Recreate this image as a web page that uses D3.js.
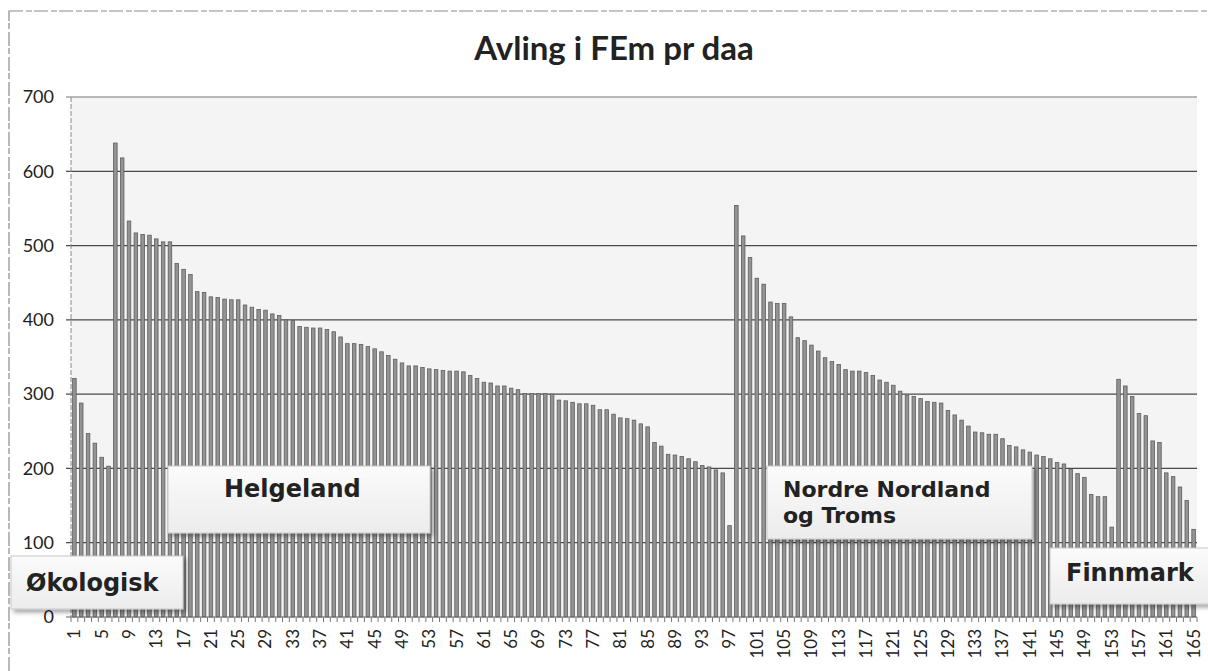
<!DOCTYPE html>
<html>
<head>
<meta charset="utf-8">
<script src="https://cdn.jsdelivr.net/npm/d3@7"></script>
<style>
  html, body { margin: 0; padding: 0; background: #fff; }
  svg { display: block; }
</style>
</head>
<body>
<svg id="chart" width="1208" height="671"></svg>
<script>
// ---- data ----
const title = "Avling i FEm pr daa";
const categories = d3.range(1, 166);
const values = [
  321, 288, 247, 234, 215, 203, 638, 618, 533, 517,
  515, 514, 509, 505, 505, 476, 468, 461, 438, 437,
  431, 430, 428, 427, 427, 420, 417, 414, 413, 408,
  406, 400, 399, 391, 390, 389, 389, 387, 384, 377,
  368, 368, 367, 364, 361, 357, 352, 347, 342, 338,
  338, 336, 334, 333, 332, 331, 331, 330, 325, 321,
  316, 315, 311, 311, 308, 306, 301, 301, 301, 301,
  300, 292, 291, 289, 287, 287, 285, 279, 279, 273,
  268, 267, 265, 260, 256, 235, 230, 219, 218, 216,
  213, 209, 204, 202, 198, 194, 123, 554, 513, 484,
  456, 448, 424, 422, 422, 404, 376, 372, 366, 358,
  349, 344, 340, 333, 331, 331, 329, 325, 319, 316,
  312, 304, 298, 297, 294, 290, 289, 288, 278, 272,
  265, 257, 249, 248, 246, 246, 240, 231, 229, 225,
  222, 218, 216, 213, 208, 206, 199, 193, 188, 165,
  162, 162, 121, 320, 311, 297, 274, 271, 237, 235,
  194, 189, 175, 157, 118
];
const yTicks = [0, 100, 200, 300, 400, 500, 600, 700];
const xTickLabels = categories.filter(d => (d - 1) % 4 === 0);
const groupLabels = [["Økologisk"], ["Helgeland"], ["Nordre Nordland", "og Troms"], ["Finnmark"]];

// ---- layout ----
const svg = d3.select("#chart");
const plot = { left: 71, right: 1197, top: 97, bottom: 617 };

const x = d3.scaleBand().domain(categories).range([plot.left, plot.right])
  .paddingInner(0.48).paddingOuter(0.24);
const y = d3.scaleLinear().domain([0, 700]).range([plot.bottom, plot.top]);

const defs = svg.append("defs");
const sh = defs.append("filter").attr("id", "shadow").attr("x", "-10%").attr("y", "-10%").attr("width", "130%").attr("height", "140%");
sh.append("feDropShadow").attr("dx", 3).attr("dy", 3).attr("stdDeviation", 2).attr("flood-color", "#000").attr("flood-opacity", 0.35);
const lg = defs.append("linearGradient").attr("id", "boxgrad").attr("x1", 0).attr("y1", 0).attr("x2", 0).attr("y2", 1);
lg.append("stop").attr("offset", "0%").attr("stop-color", "#fbfbfb");
lg.append("stop").attr("offset", "100%").attr("stop-color", "#ececec");

// outer chart border (dashed, scanned look) - only top and left edges fall inside the view
svg.append("rect").attr("x", 9).attr("y", 11).attr("width", 1230).attr("height", 700)
  .attr("fill", "none").attr("stroke", "#8a8a8a").attr("stroke-width", 1.2)
  .attr("stroke-dasharray", "14 3 6 2");

// plot area background
svg.append("rect").attr("x", plot.left).attr("y", plot.top)
  .attr("width", plot.right - plot.left).attr("height", plot.bottom - plot.top)
  .attr("fill", "#f4f4f4");

// gridlines
svg.append("g").selectAll("line").data(yTicks.filter(d => d > 0)).join("line")
  .attr("x1", plot.left - 5).attr("x2", plot.right)
  .attr("y1", d => y(d)).attr("y2", d => y(d))
  .attr("stroke", d => d === 700 ? "#777" : "#4a4a4a").attr("stroke-width", 1.2);

// y axis line
svg.append("line").attr("x1", plot.left).attr("x2", plot.left)
  .attr("y1", plot.top).attr("y2", plot.bottom)
  .attr("stroke", "#888").attr("stroke-width", 1).attr("stroke-dasharray", "5 2");

// y labels
svg.append("g").selectAll("text").data(yTicks).join("text")
  .attr("x", 54).attr("y", d => y(d)).attr("dy", "0.35em")
  .attr("text-anchor", "end")
  .attr("font-family", "Lato, 'Open Sans', sans-serif").attr("font-size", 18)
  .attr("fill", "#222").text(d => d);

// bars
svg.append("g").selectAll("rect").data(categories).join("rect")
  .attr("x", d => x(d)).attr("width", x.bandwidth())
  .attr("y", (d, i) => y(values[i]))
  .attr("height", (d, i) => y(0) - y(values[i]))
  .attr("fill", "#939393").attr("stroke", "#5e5e5e").attr("stroke-width", 0.8);

// x axis line and ticks
svg.append("line").attr("x1", plot.left - 5).attr("x2", plot.right)
  .attr("y1", plot.bottom).attr("y2", plot.bottom)
  .attr("stroke", "#666").attr("stroke-width", 1.2);
const step = x.step();
svg.append("g").selectAll("line").data(categories.concat([166])).join("line")
  .attr("x1", d => plot.left + (d - 1) * step).attr("x2", d => plot.left + (d - 1) * step)
  .attr("y1", plot.bottom).attr("y2", plot.bottom + 5)
  .attr("stroke", "#777").attr("stroke-width", 1);

// x labels
svg.append("g").selectAll("text").data(xTickLabels).join("text")
  .attr("transform", d => `translate(${x(d) + x.bandwidth() / 2},${plot.bottom + 12}) rotate(-90)`)
  .attr("text-anchor", "end").attr("dy", "0.35em")
  .attr("font-family", "Lato, 'Open Sans', sans-serif").attr("font-size", 17)
  .attr("fill", "#222").text(d => d);

// title
svg.append("text").attr("x", 614).attr("y", 60).attr("text-anchor", "middle")
  .attr("font-family", "Lato, 'Open Sans', sans-serif").attr("font-weight", "bold")
  .attr("font-size", 33).attr("fill", "#222").text(title);

// group annotation boxes
const boxes = [
  { x: 11, y: 556, w: 172, h: 53, tx: 26, ty: 583, fs: 24 },
  { x: 168, y: 466, w: 262, h: 67, tx: 224, ty: 489, fs: 24 },
  { x: 767, y: 466, w: 265, h: 73, tx: 783, ty: 489, fs: 22 },
  { x: 1050, y: 548, w: 170, h: 56, tx: 1066, ty: 573, fs: 24 }
];
boxes.forEach((b, i) => {
  const g = svg.append("g");
  g.append("rect").attr("x", b.x).attr("y", b.y).attr("width", b.w).attr("height", b.h)
    .attr("fill", "url(#boxgrad)").attr("stroke", "#c8c8c8").attr("stroke-width", 1)
    .attr("filter", "url(#shadow)");
  const t = g.append("text").attr("x", b.tx).attr("y", b.ty)
    .attr("font-family", "'DejaVu Sans', Verdana, sans-serif").attr("font-weight", "bold")
    .attr("font-size", b.fs).attr("fill", "#222");
  groupLabels[i].forEach((line, j) => {
    t.append("tspan").attr("x", b.tx).attr("dy", j === 0 ? "0.35em" : "1.2em").text(line);
  });
});
</script>
</body>
</html>
